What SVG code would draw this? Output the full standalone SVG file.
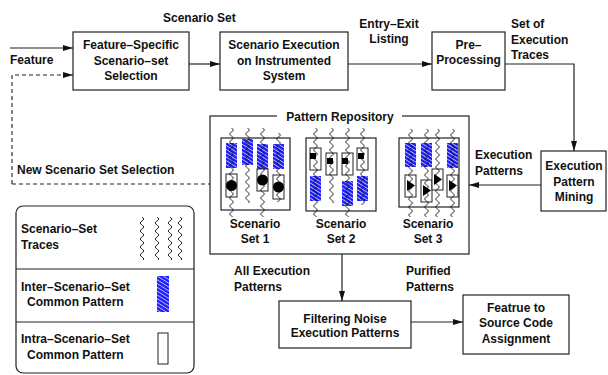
<svg xmlns="http://www.w3.org/2000/svg" width="608" height="375" viewBox="0 0 608 375">
<style>
text{font-family:"Liberation Sans",Arial,sans-serif;font-weight:bold;font-size:12px;fill:#111}
.c{text-anchor:middle}
.box{fill:#fff;stroke:#222;stroke-width:1.2}
.ln{fill:none;stroke:#222;stroke-width:1.2}
.dash{fill:none;stroke:#222;stroke-width:1.1;stroke-dasharray:4,3}
.blue{fill:url(#hatch)}
.wr{fill:#fff;stroke:#222;stroke-width:1}
.w{fill:url(#wave)}
.blk{fill:#000}
</style>
<defs>
<marker id="ah" viewBox="0 0 10 6" refX="10" refY="3" markerWidth="10" markerHeight="6" markerUnits="userSpaceOnUse" orient="auto">
<path d="M0,0 L10,3 L0,6 Z" fill="#111"/>
</marker>
<pattern id="hatch" patternUnits="userSpaceOnUse" width="4" height="3.2" patternTransform="rotate(32)">
<rect width="4" height="3.2" fill="#1f1fff"/>
<rect width="4" height="0.7" fill="#dde"/>
</pattern>
<pattern id="wave" patternUnits="userSpaceOnUse" x="-4" y="0" width="8" height="8">
<path d="M4,0 Q7.5,2 4,4 Q0.5,6 4,8" fill="none" stroke="#111" stroke-width="0.9"/>
</pattern>
</defs>

<g id="connectors">
<path class="ln" d="M10,48 H73" marker-end="url(#ah)"/>
<path class="dash" d="M12,184 V75 H73" marker-end="url(#ah)"/>
<path class="dash" d="M12,184 H210"/>
<path class="ln" d="M189,64 H220" marker-end="url(#ah)"/>
<path class="ln" d="M348,64 H432" marker-end="url(#ah)"/>
<path class="ln" d="M505,64 H574 V151" marker-end="url(#ah)"/>
<path class="ln" d="M541,185 H469" marker-end="url(#ah)"/>
<path class="ln" d="M342,254 V301" marker-end="url(#ah)"/>
<path class="ln" d="M411,322 H463" marker-end="url(#ah)"/>
</g>

<g id="labels">
<text x="163" y="22">Scenario Set</text>
<text x="10" y="64">Feature</text>
<text x="389" y="28" class="c">Entry–Exit</text>
<text x="389" y="43" class="c">Listing</text>
<text x="511" y="28">Set of</text>
<text x="511" y="44">Execution</text>
<text x="511" y="59">Traces</text>
<text x="17" y="174">New Scenario Set Selection</text>
<text x="475" y="159">Execution</text>
<text x="475" y="175">Patterns</text>
<text x="234" y="275">All Execution</text>
<text x="234" y="291">Patterns</text>
<text x="406" y="275">Purified</text>
<text x="406" y="291">Patterns</text>
</g>

<g id="feature-selection">
<rect class="box" x="73" y="32" width="116" height="58"/>
<text x="131" y="49" class="c">Feature–Specific</text>
<text x="131" y="65" class="c">Scenario–set</text>
<text x="131" y="80" class="c">Selection</text>
</g>

<g id="scenario-execution">
<rect class="box" x="220" y="32" width="128" height="58"/>
<text x="284" y="49" class="c">Scenario Execution</text>
<text x="284" y="65" class="c">on Instrumented</text>
<text x="284" y="80" class="c">System</text>
</g>

<g id="pre-processing">
<rect class="box" x="432" y="32" width="73" height="58"/>
<text x="468.5" y="49" class="c">Pre–</text>
<text x="468.5" y="64" class="c">Processing</text>
</g>

<g id="pattern-mining">
<rect class="box" x="541" y="151" width="65" height="60"/>
<text x="574" y="170" class="c">Execution</text>
<text x="574" y="186" class="c">Pattern</text>
<text x="574" y="201" class="c">Mining</text>
</g>

<g id="filtering">
<rect class="box" x="279" y="301" width="132" height="47"/>
<text x="345" y="323" class="c">Filtering Noise</text>
<text x="345" y="337" class="c">Execution Patterns</text>
</g>

<g id="assignment">
<rect class="box" x="463" y="295" width="106" height="59"/>
<text x="516" y="312" class="c">Featrue to</text>
<text x="516" y="327" class="c">Source Code</text>
<text x="516" y="343" class="c">Assignment</text>
</g>

<g id="pattern-repository">
<rect class="box" x="210" y="116" width="259" height="138"/>
<rect x="277" y="110" width="125" height="12" fill="#fff"/>
<text x="340" y="121" class="c">Pattern Repository</text>

<g id="set1">
<rect class="box" x="221" y="138" width="69" height="72"/>
<rect class="blue" x="226" y="143" width="11" height="25"/>
<rect class="blue" x="242" y="139" width="11" height="26"/>
<rect class="blue" x="257" y="144" width="11" height="25"/>
<rect class="blue" x="273" y="144" width="11" height="25"/>
<rect class="wr" x="226" y="174" width="11" height="23"/>
<rect class="wr" x="257" y="169" width="11" height="22"/>
<rect class="wr" x="273" y="175" width="11" height="24"/>
<rect class="w" x="-4" width="8" height="89" transform="translate(231.5,128)"/>
<rect class="w" x="-4" width="8" height="75" transform="translate(247.5,128)"/>
<rect class="w" x="-4" width="8" height="89" transform="translate(262.5,128)"/>
<rect class="w" x="-4" width="8" height="69" transform="translate(278.5,133)"/>
<circle class="blk" cx="231.5" cy="185.5" r="5.5"/>
<circle class="blk" cx="262.5" cy="180" r="5.5"/>
<circle class="blk" cx="278.5" cy="187" r="5.5"/>
<text x="255" y="228" class="c">Scenario</text>
<text x="255" y="243" class="c">Set 1</text>
</g>

<g id="set2">
<rect class="box" x="306" y="138" width="70" height="73"/>
<rect class="wr" x="310" y="148" width="11" height="22"/>
<rect class="wr" x="326" y="153" width="11" height="22"/>
<rect class="wr" x="342" y="153" width="11" height="22"/>
<rect class="wr" x="357" y="148" width="11" height="22"/>
<rect class="blue" x="310" y="176" width="11" height="25"/>
<rect class="blue" x="342" y="181" width="11" height="25"/>
<rect class="blue" x="357" y="176" width="11" height="25"/>
<rect class="w" x="-4" width="8" height="89" transform="translate(315.5,128)"/>
<rect class="w" x="-4" width="8" height="75" transform="translate(331.5,128)"/>
<rect class="w" x="-4" width="8" height="89" transform="translate(347.5,128)"/>
<rect class="w" x="-4" width="8" height="77" transform="translate(362.5,128)"/>
<rect class="blk" x="310" y="153" width="6" height="6"/>
<rect class="blk" x="327" y="158" width="6" height="6"/>
<rect class="blk" x="342" y="158" width="6" height="6"/>
<rect class="blk" x="358" y="153" width="6" height="6"/>
<text x="341" y="228" class="c">Scenario</text>
<text x="341" y="243" class="c">Set 2</text>
</g>

<g id="set3">
<rect class="box" x="399" y="138" width="60" height="69"/>
<rect class="blue" x="405" y="143" width="11" height="24"/>
<rect class="blue" x="421" y="143" width="11" height="24"/>
<rect class="blue" x="447" y="143" width="11" height="25"/>
<rect class="wr" x="405" y="175" width="11" height="22"/>
<rect class="wr" x="421" y="180" width="11" height="22"/>
<rect class="wr" x="432" y="169" width="11" height="21"/>
<rect class="wr" x="447" y="175" width="11" height="22"/>
<rect class="w" x="-4" width="8" height="88" transform="translate(410.5,129)"/>
<rect class="w" x="-4" width="8" height="88" transform="translate(426.5,129)"/>
<rect class="w" x="-4" width="8" height="88" transform="translate(437.5,129)"/>
<rect class="w" x="-4" width="8" height="88" transform="translate(452.5,129)"/>
<path class="blk" d="M407,180 L415,185.5 L407,191 Z"/>
<path class="blk" d="M423,185 L431,190.5 L423,196 Z"/>
<path class="blk" d="M434,174 L442,179.5 L434,185 Z"/>
<path class="blk" d="M449,180 L457,185.5 L449,191 Z"/>
<text x="428" y="228" class="c">Scenario</text>
<text x="428" y="243" class="c">Set 3</text>
</g>
</g>

<g id="legend">
<rect class="box" x="16" y="206" width="178" height="167" rx="7"/>
<path class="ln" d="M16,269 H194 M16,322 H194"/>
<text x="21" y="233">Scenario–Set</text>
<text x="21" y="249">Traces</text>
<rect class="w" x="-4" width="8" height="43" transform="translate(142,217)"/>
<rect class="w" x="-4" width="8" height="43" transform="translate(157,217)"/>
<rect class="w" x="-4" width="8" height="43" transform="translate(170,217)"/>
<rect class="w" x="-4" width="8" height="43" transform="translate(180,217)"/>
<text x="21" y="291">Inter–Scenario–Set</text>
<text x="27" y="306">Common Pattern</text>
<rect class="blue" x="157" y="276" width="12" height="36"/>
<text x="21" y="343">Intra–Scenario–Set</text>
<text x="27" y="359">Common Pattern</text>
<rect class="wr" x="158" y="333" width="10" height="31"/>
</g>
</svg>
